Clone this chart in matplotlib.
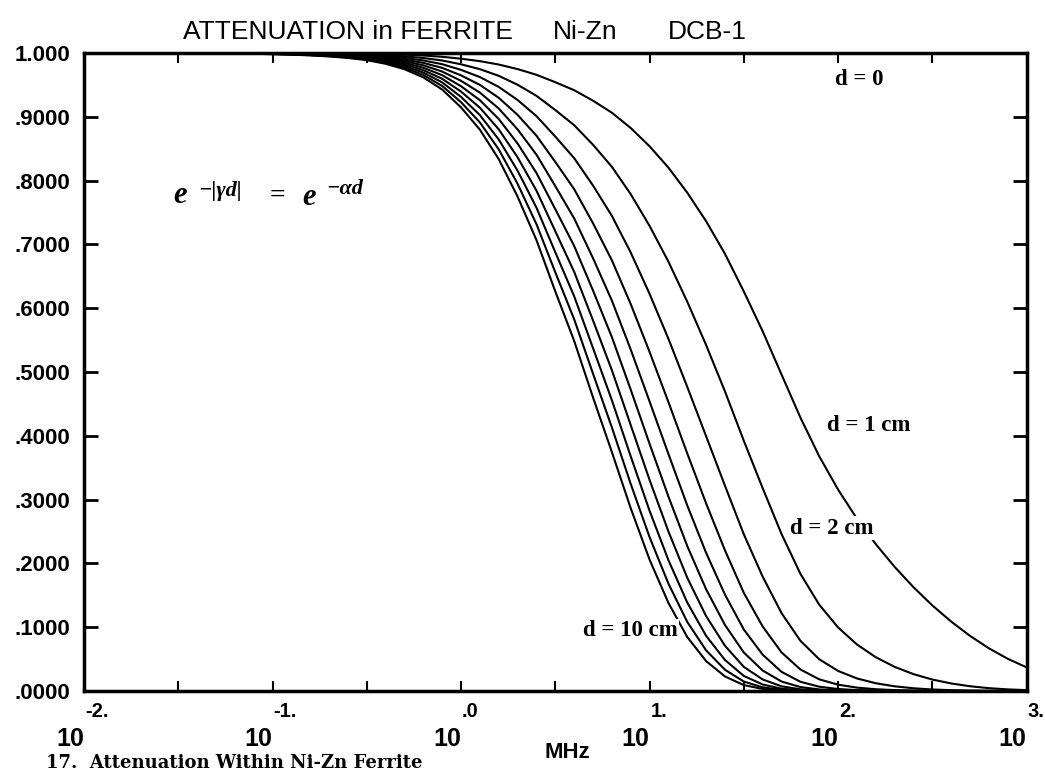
import numpy as np
import matplotlib
matplotlib.use("Agg")
import matplotlib.pyplot as plt
from matplotlib import transforms

# frequency grid (MHz), 0.1 decade steps over the plotted range
freq_mhz = np.logspace(-2, 3, 51)

# attenuation constant alpha (Np/cm) at each frequency, read off the
# d = 1, 2 and 10 cm curves of the original plot
alpha_per_cm = [
    6.31e-6, 8.71e-6, 1.20e-5, 1.66e-5, 2.29e-5, 3.16e-5, 4.47e-5, 6.31e-5,
    8.91e-5, 1.26e-4, 1.78e-4, 2.57e-4, 3.72e-4, 5.37e-4, 7.76e-4, 1.12e-3,
    1.70e-3, 2.57e-3, 3.89e-3, 5.89e-3, 8.91e-3, 1.28e-2, 1.82e-2, 2.55e-2,
    3.47e-2, 4.68e-2, 6.00e-2, 7.76e-2, 9.82e-2, 0.125, 0.158, 0.198,
    0.247, 0.306, 0.378, 0.468, 0.573, 0.701, 0.847, 1.000, 1.153, 1.309,
    1.469, 1.637, 1.816, 2.009, 2.218, 2.449, 2.704, 2.985, 3.296,
]

thickness_cm = [1, 2, 3, 4, 5, 6, 7, 8, 9, 10]

y_ticks = [0.0, 0.1, 0.2, 0.3, 0.4, 0.5, 0.6, 0.7, 0.8, 0.9, 1.0]
y_tick_labels = ['.0000', '.1000', '.2000', '.3000', '.4000', '.5000',
                 '.6000', '.7000', '.8000', '.9000', '1.000']

x_ticks = [0.01, 0.0316, 0.1, 0.316, 1, 3.16, 10, 31.6, 100, 316, 1000]
x_label_decades = [0.01, 0.1, 1, 10, 100, 1000]
x_label_exponents = ['-2.', '-1.', '.0', '1.', '2.', '3.']

SANS = ['Liberation Sans', 'DejaVu Sans']
SERIF = ['Liberation Serif', 'DejaVu Serif']

W, H = 1045, 772
fig = plt.figure(figsize=(W / 100, H / 100), dpi=100)
ax = fig.add_axes([0.0804, 0.1049, 0.9020, 0.8264])

alpha = np.array(alpha_per_cm)
for d in thickness_cm:
    ax.plot(freq_mhz, np.exp(-alpha * d), color='black', lw=1.5)

ax.set_xscale('log')
ax.set_xlim(0.01, 1000)
ax.set_ylim(0, 1)

ax.set_xticks(x_ticks)
ax.xaxis.set_minor_locator(matplotlib.ticker.NullLocator())
ax.set_xticklabels([])
ax.set_yticks(y_ticks)
ax.set_yticklabels(y_tick_labels)
for lab in ax.get_yticklabels():
    lab.set_family(SANS)
    lab.set_fontweight('bold')
    lab.set_fontsize(16)

ax.tick_params(axis='y', direction='in', length=10, width=2,
               left=True, right=True, pad=10)
ax.tick_params(axis='x', direction='in', length=7, width=1.5,
               bottom=True, top=True)
for sp in ax.spines.values():
    sp.set_linewidth(2.5)

# decade labels drawn as "10" plus a raised exponent, like the plotter did
trans = transforms.blended_transform_factory(ax.transData, ax.transAxes)
t_exp = transforms.offset_copy(trans, fig=fig, x=1, y=0, units='dots')
for xv, ex in zip(x_label_decades, x_label_exponents):
    ax.text(xv, -0.057, '10', transform=trans, ha='right', va='top',
            fontsize=18, fontweight='bold', family=SANS)
    ax.text(xv, -0.047, ex, transform=t_exp, ha='left', va='bottom',
            fontsize=14.5, fontweight='bold', family=SANS)

fig.text(567 / W, 1 - 753 / H, 'MHz', ha='center', va='center',
         fontsize=16, fontweight='bold', family=SANS)

# title pieces
for txt, px in [('ATTENUATION in FERRITE', 183), ('Ni-Zn', 553), ('DCB-1', 668)]:
    fig.text(px / W, 1 - 39 / H, txt, ha='left', va='baseline',
             fontsize=19, family=SANS)

# formula  e^-|yd| = e^-ad, set piece by piece in bold italic serif
formula = [
    ('e', 173, 203, 22),
    ('\u2212|\u03b3d|', 198, 196, 16),
    ('=', 270, 203, 20),
    ('e', 302, 205, 22),
    ('\u2212\u03b1d', 326, 194, 16),
]
for txt, px, py, fs in formula:
    fig.text(px / W, 1 - py / H, txt, ha='left', va='baseline', fontsize=fs,
             family=SERIF, fontweight='bold',
             style='normal' if txt == '=' else 'italic')

# curve annotations
label_box = dict(facecolor='white', edgecolor='none', pad=1)
ax.text(95.9, 0.959, 'd = 0', ha='left', va='center', fontsize=16.5,
        fontweight='bold', family=SERIF)
ax.text(87.1, 0.416, 'd = 1 cm', ha='left', va='center', fontsize=16.5,
        fontweight='bold', family=SERIF, bbox=label_box)
ax.text(55.3, 0.255, 'd = 2 cm', ha='left', va='center', fontsize=16.5,
        fontweight='bold', family=SERIF, bbox=label_box)
ax.text(4.45, 0.095, 'd = 10 cm', ha='left', va='center', fontsize=16.5,
        fontweight='bold', family=SERIF, bbox=label_box)

# figure caption along the bottom edge of the scan
fig.text(46 / W, 1 - 768 / H, '17.  Attenuation Within Ni-Zn Ferrite',
         ha='left', va='baseline', fontsize=13, fontweight='bold',
         family=['DejaVu Serif'])

fig.savefig('out.png', dpi=100)
